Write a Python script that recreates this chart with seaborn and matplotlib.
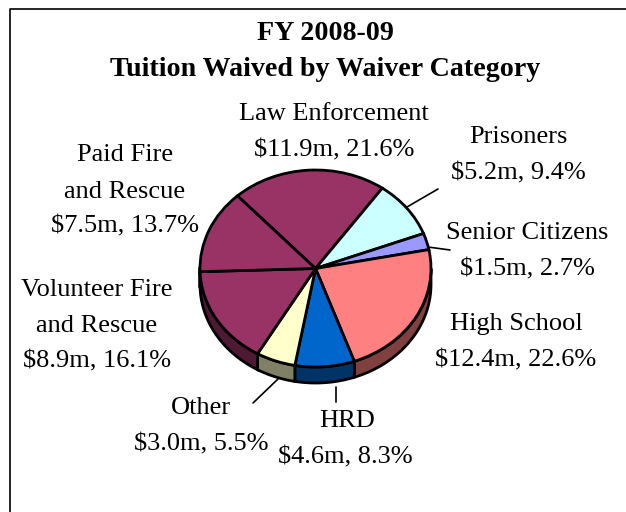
import numpy as np
import matplotlib
matplotlib.use('Agg')
import matplotlib.pyplot as plt
import seaborn as sns

# data
categories = [['Law Enforcement'], ['Prisoners'], ['Senior Citizens'], ['High School'],
              ['HRD'], ['Other'], ['Volunteer Fire', 'and Rescue'], ['Paid Fire', 'and Rescue']]
amounts = ['$11.9m', '$5.2m', '$1.5m', '$12.4m', '$4.6m', '$3.0m', '$8.9m', '$7.5m']
percents = [21.6, 9.4, 2.7, 22.6, 8.3, 5.5, 16.1, 13.7]
title_lines = ['FY 2008-09', 'Tuition Waived by Waiver Category']

# colours, top of the pie and the darker side wall
top_colors = sns.color_palette(['#993366', '#CCFFFF', '#9999FF', '#FF8080',
                                '#0066CC', '#FFFFCC', '#993366', '#993366'])
side_colors = sns.color_palette(['#4D1933', '#668080', '#4D4D80', '#804040',
                                 '#003366', '#808066', '#4D1933', '#4D1933'])

sns.set_theme(style='white')
plt.rcParams['font.family'] = ['Liberation Serif', 'DejaVu Serif']

W, H = 626, 512
fig = plt.figure(figsize=(W/100, H/100), dpi=100)

# pie ellipse in pixels
left, right, top, bottom = 200, 431, 170, 367
ax = fig.add_axes([left/W, 1-bottom/H, (right-left)/W, (bottom-top)/H])

wedges, _ = ax.pie(percents, colors=top_colors, startangle=132.5, counterclock=False,
                   radius=1, center=(0, 0),
                   wedgeprops={'edgecolor': 'black', 'linewidth': 2.0, 'zorder': 3})
ax.set_aspect('auto')
ax.set_xlim(-1, 1)
ax.set_ylim(-1, 1)

# side wall, 3d look
depth = 16/((bottom-top)/2)
for w, c in zip(wedges, side_colors):
    a = np.radians(np.linspace(w.theta1, w.theta2, 60))
    a = a[np.sin(a) <= 0.02]
    if len(a) < 2:
        continue
    xs = np.cos(a)
    ys = np.sin(a)
    ax.fill(np.r_[xs, xs[::-1]], np.r_[ys, ys[::-1]-depth], facecolor=c,
            edgecolor='black', linewidth=2.0, zorder=1, clip_on=False)
for w in wedges:
    w.set_clip_on(False)


def px(x, y):
    return x/W, 1-y/H


# label centres in pixels
label_pos = [[(334, 114), (334, 150)],
             [(518, 137), (518, 173)],
             [(527, 233), (527, 269)],
             [(516, 324), (516, 360)],
             [(347, 421), (345, 457)],
             [(201, 408), (201, 444)],
             [(97, 290), (97, 326), (97, 361)],
             [(125, 155), (125, 192), (125, 226)]]

for name, amt, pct, pos in zip(categories, amounts, percents, label_pos):
    lines = name + [f'{amt}, {pct}%']
    for txt, (x, y) in zip(lines, pos):
        fx, fy = px(x, y)
        fig.text(fx, fy, txt, ha='center', va='center', fontsize=19, color='black')

fx, fy = px(325, 34)
fig.text(fx, fy, title_lines[0], ha='center', va='center', fontsize=20.2, fontweight='bold', color='black')
fx, fy = px(325, 70)
fig.text(fx, fy, title_lines[1], ha='center', va='center', fontsize=20.2, fontweight='bold', color='black')

# leader lines
leaders = [((438, 189), (407, 207)), ((450, 250), (428, 247)),
           ((336, 387), (336, 402)), ((278, 379), (253, 403))]
for a, b in leaders:
    x0, y0 = px(*a)
    x1, y1 = px(*b)
    fig.add_artist(plt.Line2D([x0, x1], [y0, y1], color='black', lw=1.2))

# chart frame
x0, y0 = px(10, 512)
x1, y1 = px(10, 9)
x2, y2 = px(626, 9)
fig.add_artist(plt.Line2D([x0, x1, x2], [y0, y1, y2], color='black', lw=1.2))

fig.savefig('out.png', dpi=100)
